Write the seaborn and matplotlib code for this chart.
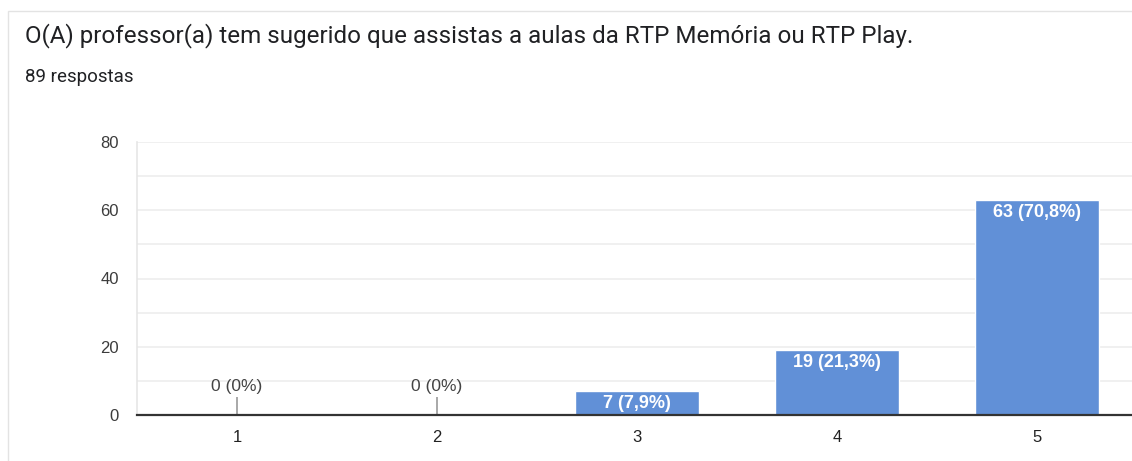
import seaborn as sns
import matplotlib.pyplot as plt
import pandas as pd
from matplotlib.patches import Rectangle

# data
categories = ["1", "2", "3", "4", "5"]
counts = [0, 0, 7, 19, 63]
total = 89
title = "O(A) professor(a) tem sugerido que assistas a aulas da RTP Memória ou RTP Play."
subtitle = "89 respostas"

df = pd.DataFrame({"cat": categories, "n": counts})

sns.set_style("white")
plt.rcParams['font.family'] = ['Liberation Sans', 'DejaVu Sans']

fig = plt.figure(figsize=(11.32, 4.61), dpi=100)
W, H = 1132, 461
ax = fig.add_axes([137 / W, 46 / H, 1000 / W, 273 / H])

sns.barplot(data=df, x="cat", y="n", color="#6190d7", width=0.62,
            saturation=1, ax=ax, zorder=3)

ax.set_ylim(0, 80)
ax.set_xlim(-0.5, 4.5)
ax.set_yticks([0, 20, 40, 60, 80])
ax.set_yticks([10, 30, 50, 70], minor=True)
ax.grid(axis="y", which="both", color="#ededed", lw=1.2, zorder=0)
ax.set_axisbelow(True)
ax.set_xlabel("")
ax.set_ylabel("")
ax.tick_params(axis="y", which="both", length=0, pad=13, labelsize=12, labelcolor="#3c3c3c")
ax.tick_params(axis="x", length=0, pad=11, labelsize=12, labelcolor="#222222")

for s in ["top", "right"]:
    ax.spines[s].set_visible(False)
ax.spines["left"].set_color("#e6e6e6")
ax.spines["left"].set_linewidth(1.2)
ax.spines["bottom"].set_color("#333333")
ax.spines["bottom"].set_linewidth(1.6)
ax.spines["bottom"].set_zorder(5)

px = 80 / 273  # data units per pixel
for i, n in enumerate(counts):
    pct = f"{n / total * 100:.1f}".replace(".", ",")
    if pct.endswith(",0"):
        pct = pct[:-2]
    label = f"{n} ({pct}%)"
    if n == 0:
        ax.vlines(i, 0, 18 * px, color="#999999", lw=1.2, zorder=4)
        ax.text(i, 29 * px, label, ha="center", va="center", fontsize=12.5,
                color="#444444", zorder=4)
    else:
        ax.text(i, n - 12 * px, label, ha="center", va="center", fontsize=13,
                fontweight="bold", color="white", zorder=4)

fig.text(25 / W, 1 - 36 / H, title, fontsize=17.4, color="#202124",
         family=["Roboto", "DejaVu Sans"], va="center", ha="left")
fig.text(25 / W, 1 - 77 / H, subtitle, fontsize=13.5, color="#202124",
         family=["Roboto", "DejaVu Sans"], va="center", ha="left")

# faint card border
fig.patches.append(Rectangle((8 / W, -0.05), 1.2, 1 - 11 / H + 0.05,
                             transform=fig.transFigure, fill=False,
                             ec="#e3e3e3", lw=1))

fig.savefig("out.png", dpi=100)
